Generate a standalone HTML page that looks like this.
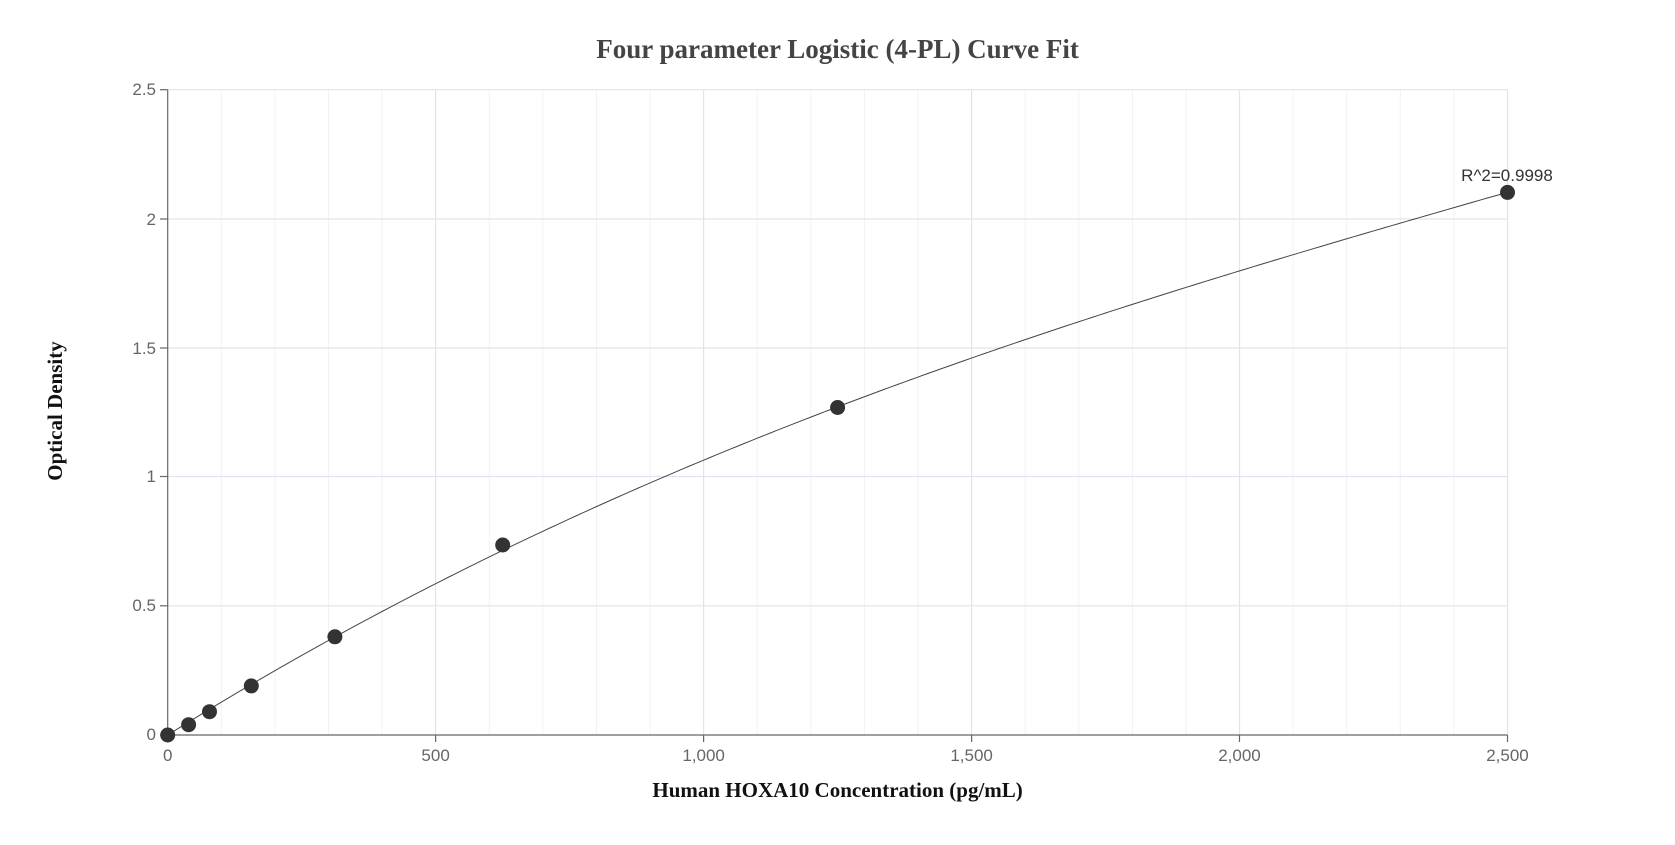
<!DOCTYPE html>
<html><head><meta charset="utf-8"><style>body{margin:0;background:#fff}</style></head><body>
<svg width="1675" height="840" xmlns="http://www.w3.org/2000/svg" font-family="Liberation Sans, sans-serif">
<rect width="1675" height="840" fill="#fff"/>
<g stroke="#f0f2f6" stroke-width="1">
<line x1="221.3" y1="89.7" x2="221.3" y2="735"/><line x1="274.9" y1="89.7" x2="274.9" y2="735"/><line x1="328.5" y1="89.7" x2="328.5" y2="735"/><line x1="382.1" y1="89.7" x2="382.1" y2="735"/>
<line x1="489.3" y1="89.7" x2="489.3" y2="735"/><line x1="542.9" y1="89.7" x2="542.9" y2="735"/><line x1="596.5" y1="89.7" x2="596.5" y2="735"/><line x1="650.1" y1="89.7" x2="650.1" y2="735"/>
<line x1="757.2" y1="89.7" x2="757.2" y2="735"/><line x1="810.8" y1="89.7" x2="810.8" y2="735"/><line x1="864.4" y1="89.7" x2="864.4" y2="735"/><line x1="918.0" y1="89.7" x2="918.0" y2="735"/>
<line x1="1025.2" y1="89.7" x2="1025.2" y2="735"/><line x1="1078.8" y1="89.7" x2="1078.8" y2="735"/><line x1="1132.4" y1="89.7" x2="1132.4" y2="735"/><line x1="1186.0" y1="89.7" x2="1186.0" y2="735"/>
<line x1="1293.1" y1="89.7" x2="1293.1" y2="735"/><line x1="1346.7" y1="89.7" x2="1346.7" y2="735"/><line x1="1400.3" y1="89.7" x2="1400.3" y2="735"/><line x1="1453.9" y1="89.7" x2="1453.9" y2="735"/>
</g>
<g stroke="#e0e4ee" stroke-width="1.2">
<line x1="435.6" y1="89.7" x2="435.6" y2="735"/><line x1="703.6" y1="89.7" x2="703.6" y2="735"/><line x1="971.6" y1="89.7" x2="971.6" y2="735"/><line x1="1239.5" y1="89.7" x2="1239.5" y2="735"/><line x1="1507.5" y1="89.7" x2="1507.5" y2="735"/>
<line x1="167.7" y1="89.7" x2="1507.5" y2="89.7"/><line x1="167.7" y1="219" x2="1507.5" y2="219"/><line x1="167.7" y1="348" x2="1507.5" y2="348"/><line x1="167.7" y1="476.5" x2="1507.5" y2="476.5"/><line x1="167.7" y1="605.8" x2="1507.5" y2="605.8"/>
</g>
<g stroke="#666" stroke-width="1.2">
<line x1="167.7" y1="89.7" x2="167.7" y2="735"/><line x1="167.7" y1="735" x2="1507.5" y2="735"/>
<line x1="160" y1="89.7" x2="167.7" y2="89.7"/><line x1="160" y1="219" x2="167.7" y2="219"/><line x1="160" y1="348" x2="167.7" y2="348"/><line x1="160" y1="476.5" x2="167.7" y2="476.5"/><line x1="160" y1="605.8" x2="167.7" y2="605.8"/><line x1="160" y1="735" x2="167.7" y2="735"/>
<line x1="167.7" y1="735" x2="167.7" y2="742"/><line x1="435.6" y1="735" x2="435.6" y2="742"/><line x1="703.6" y1="735" x2="703.6" y2="742"/><line x1="971.6" y1="735" x2="971.6" y2="742"/><line x1="1239.5" y1="735" x2="1239.5" y2="742"/><line x1="1507.5" y1="735" x2="1507.5" y2="742"/>
</g>
<g fill="#666" font-size="17" text-anchor="end">
<text x="156" y="95">2.5</text><text x="156" y="225">2</text><text x="156" y="354">1.5</text><text x="156" y="482">1</text><text x="156" y="611">0.5</text><text x="156" y="740">0</text>
</g>
<g fill="#666" font-size="17" text-anchor="middle">
<text x="167.7" y="761">0</text><text x="435.6" y="761">500</text><text x="703.6" y="761">1,000</text><text x="971.6" y="761">1,500</text><text x="1239.5" y="761">2,000</text><text x="1507.5" y="761">2,500</text>
</g>
<polyline id="curve" fill="none" stroke="#444" stroke-width="1" points=""/>
<g fill="#333">
<circle cx="167.7" cy="735" r="7.5"/><circle cx="188.6" cy="724.7" r="7.5"/><circle cx="209.5" cy="711.7" r="7.5"/><circle cx="251.3" cy="685.9" r="7.5"/><circle cx="334.9" cy="636.8" r="7.5"/><circle cx="502.7" cy="545" r="7.5"/><circle cx="837.6" cy="407.5" r="7.5"/><circle cx="1507.5" cy="192.4" r="7.5"/>
</g>
<text x="1507" y="181" font-size="17" fill="#333" text-anchor="middle">R^2=0.9998</text>
<text x="837.6" y="58" font-size="27" font-weight="bold" fill="#444" text-anchor="middle" font-family="Liberation Serif, serif">Four parameter Logistic (4-PL) Curve Fit</text>
<text x="837.6" y="797" font-size="21" font-weight="bold" fill="#111" text-anchor="middle" font-family="Liberation Serif, serif">Human HOXA10 Concentration (pg/mL)</text>
<text transform="translate(62,411) rotate(-90)" font-size="21" font-weight="bold" fill="#111" text-anchor="middle" font-family="Liberation Serif, serif">Optical Density</text>
</svg>
<script>
var s=[];
for(var i=0;i<=200;i++){var k=2.5*i/200;var f=1.2956*k-0.2651*k*k+0.03316*k*k*k;
s.push((167.7+k*535.92).toFixed(2)+","+(735-f*258.4).toFixed(2));}
document.getElementById("curve").setAttribute("points",s.join(" "));
</script>
</body></html>
